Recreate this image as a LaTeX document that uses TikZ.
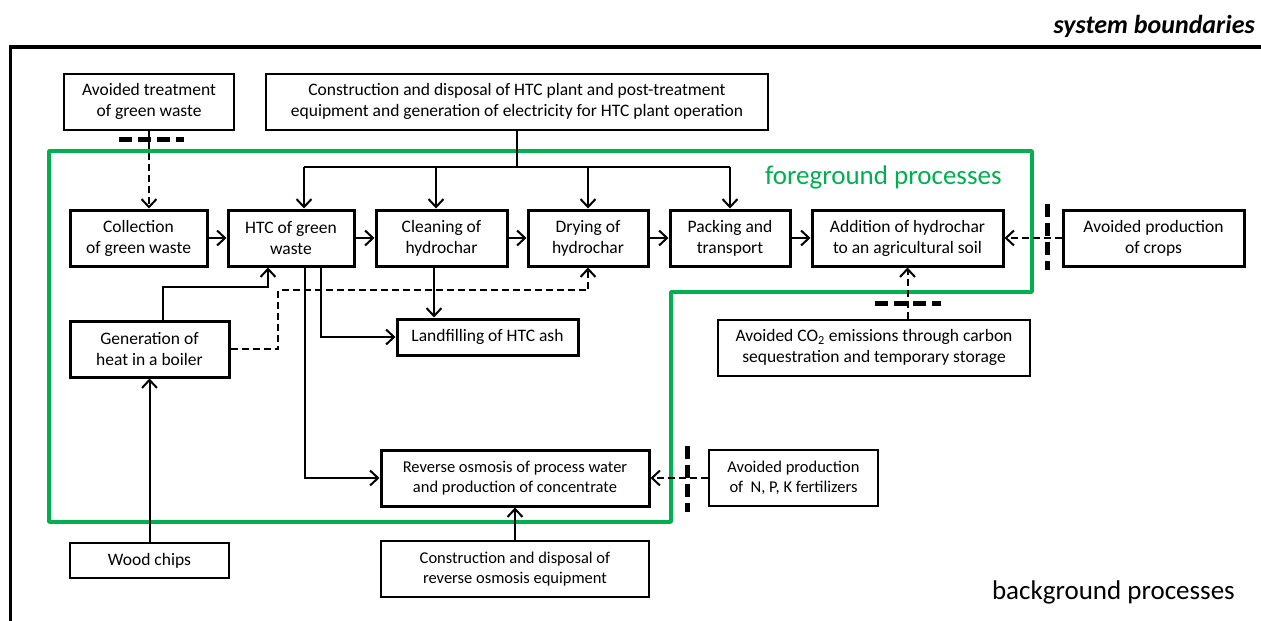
\documentclass[tikz,border=0pt]{standalone}
\usepackage{fontspec}
\setmainfont{Carlito}
\usetikzlibrary{arrows.meta}
\definecolor{fggreen}{RGB}{0,176,80}
\begin{document}
\begin{tikzpicture}[x=1pt,y=-1pt,
  every node/.style={font=\fontsize{17.5}{21}\selectfont, align=center, inner sep=0pt},
  thickbox/.style={draw, line width=3pt, minimum height=56pt},
  thinbox/.style={draw, line width=2pt, minimum height=56pt},
  conn/.style={line width=2pt},
  arr/.style={conn, -{Straight Barb[length=8pt,width=15pt]}},
  dsh/.style={dash pattern=on 7pt off 4pt},
  bar/.style={line width=5pt, dash pattern=on 13pt off 6pt}
]
\useasboundingbox (0,0) rectangle (1261,621);
\begin{scope}
\clip (0,0) rectangle (1261,621);
\draw[line width=3.5pt] (10.5,630) -- (10.5,47) -- (1270,47);
\end{scope}
\node[anchor=base east, font=\fontsize{26}{29}\selectfont\bfseries\itshape] (sb) at (1255,33) {system boundaries};
\node[anchor=base east, font=\fontsize{27}{30}\selectfont] (bg) at (1235,599) {background processes};

% green foreground boundary
\draw[fggreen, line width=3.5pt, line join=round] (49,151) -- (1032,151) -- (1032,292) -- (671,292) -- (671,522) -- (49,522) -- cycle;
\node[anchor=base west, text=fggreen, font=\fontsize{27}{30}\selectfont] (fg) at (765,184) {foreground processes};

% boxes
\node[thinbox, minimum width=170pt] (avt) at (149,101.5) {Avoided treatment\\of green waste};
\node[thinbox, minimum width=502pt] (con) at (517,101.5) {Construction and disposal of HTC plant and post-treatment\\equipment and generation of electricity for HTC plant operation};
\node[thickbox, minimum width=137pt] (col) at (138.5,238) {Collection\\of green waste};
\node[thickbox, minimum width=126pt] (htc) at (291,238) {HTC of green\\waste};
\node[thickbox, minimum width=131pt] (cln) at (441.5,238) {Cleaning of\\hydrochar};
\node[thickbox, minimum width=120pt] (dry) at (588,238) {Drying of\\hydrochar};
\node[thickbox, minimum width=120pt] (pck) at (730,238) {Packing and\\transport};
\node[thickbox, minimum width=191pt] (add) at (907.5,238) {Addition of hydrochar\\to an agricultural soil};
\node[thickbox, minimum width=181pt] (crp) at (1153.5,238) {Avoided production\\of crops};
\node[thickbox, minimum width=159pt] (heat) at (149.5,349) {Generation of\\heat in a boiler};
\node[thickbox, minimum width=181pt, minimum height=36pt] (lnd) at (487.5,337) {Landfilling of HTC ash};
\node[thinbox, minimum width=312pt] (co2) at (874,347.5) {Avoided CO\textsubscript{2} emissions through carbon\\sequestration and temporary storage};
\node[thickbox, minimum width=268pt, font=\fontsize{16.5}{20}\selectfont] (ro) at (515,478) {Reverse osmosis of process water\\and production of concentrate};
\node[thinbox, minimum width=169pt, font=\fontsize{16.5}{20}\selectfont] (npk) at (793.5,478) {Avoided production\\of~ N, P, K fertilizers};
\node[thinbox, minimum width=159pt, minimum height=35pt] (wood) at (149.5,560.5) {Wood chips};
\node[thinbox, minimum width=268pt, font=\fontsize{16.5}{20}\selectfont] (cro) at (515,569) {Construction and disposal of\\reverse osmosis equipment};

% HTC plant construction distribution
\coordinate (hl) at (304,167);
\draw[conn] (con.south) -- (con.south |- hl);
\draw[conn] (hl) -- (hl -| pck.north);
\draw[arr] (hl) -- (hl |- htc.north);
\coordinate (cl) at (436,167);
\draw[arr] (cl) -- (cl |- cln.north);
\draw[arr] (hl -| dry.north) -- (dry.north);
\draw[arr] (hl -| pck.north) -- (pck.north);

% main chain
\draw[arr] (col.east) -- (htc.west);
\draw[arr] (htc.east) -- (cln.west);
\draw[arr] (cln.east) -- (dry.west);
\draw[arr] (dry.east) -- (pck.west);
\draw[arr] (pck.east) -- (add.west);

% avoided treatment
\draw[arr, dsh] (avt.south) -- (avt.south |- col.north);
\draw[bar] (119,139) -- (184,139);

% avoided crops
\draw[arr, dsh] (crp.west) -- (add.east);
\draw[bar] (1047,204) -- (1047,270);

% avoided CO2
\draw[arr, dsh] (add.south |- co2.north) -- (add.south);
\draw[bar] (875,303) -- (941,303);

% heat to HTC
\coordinate (h1) at (163,287);
\coordinate (h2) at (268,287);
\draw[arr] (h1 |- heat.north) -- (h1) -- (h2) -- (h2 |- htc.south);

% heat to drying (dashed)
\coordinate (d1) at (278,290);
\draw[arr, dsh] (heat.east) -- (heat.east -| d1) -- (d1) -- (d1 -| dry.south) -- (dry.south);

% HTC to landfilling
\coordinate (l1) at (321,337);
\draw[arr] (l1 |- htc.south) -- (l1) -- (lnd.west);
\coordinate (l2) at (434,300);
\draw[arr] (l2 |- cln.south) -- (l2 |- lnd.north);

% HTC to reverse osmosis
\coordinate (r1) at (305,478);
\draw[arr] (r1 |- htc.south) -- (r1) -- (ro.west);

% wood chips to heat
\draw[arr] (wood.north) -- (wood.north |- heat.south);

% RO construction
\draw[arr] (cro.north) -- (ro.south);

% avoided NPK
\draw[arr, dsh] (npk.west) -- (ro.east);
\draw[bar] (687,446) -- (687,512);
\end{tikzpicture}
\end{document}
